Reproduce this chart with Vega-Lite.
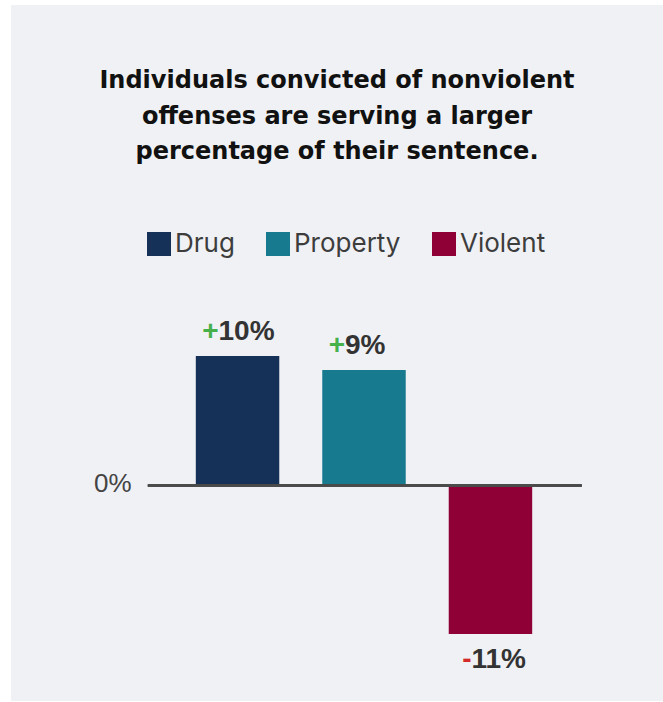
{
  "$schema": "https://vega.github.io/schema/vega-lite/v6.json",
  "width": 652,
  "height": 696,
  "autosize": {"type": "none"},
  "padding": {"left": 11, "top": 5, "right": 0, "bottom": 1},
  "background": "#ffffff",
  "config": {
    "view": {"stroke": null, "fill": "#f0f1f4"}
  },
  "title": {
    "text": ["Individuals convicted of nonviolent", "offenses are serving a larger", "percentage of their sentence."],
    "font": "DejaVu Sans",
    "fontSize": 24,
    "fontWeight": "bold",
    "color": "#111111",
    "lineHeight": 35.5,
    "anchor": "middle",
    "frame": "group",
    "baseline": "alphabetic",
    "offset": -178.4
  },
  "data": {
    "values": [
      {"type": "Drug", "value": 10.0, "sign": "+", "label": "10%"},
      {"type": "Property", "value": 8.92, "sign": "+", "label": "9%"},
      {"type": "Violent", "value": -11.47, "sign": "-", "label": "11%"}
    ]
  },
  "encoding": {
    "x": {
      "field": "type",
      "type": "nominal",
      "sort": ["Drug", "Property", "Violent"],
      "axis": null,
      "scale": {"range": [136, 570], "paddingInner": 0.34, "paddingOuter": 0.386, "align": 0.5}
    }
  },
  "layer": [
    {
      "mark": {"type": "bar"},
      "encoding": {
        "y": {
          "field": "value",
          "type": "quantitative",
          "scale": {"domain": [-16.64, 37.1], "nice": false, "zero": false},
          "axis": {
            "values": [0],
            "labelExpr": "datum.value + '%'",
            "domain": false,
            "ticks": false,
            "grid": false,
            "title": null,
            "offset": -136,
            "labelPadding": 16,
            "labelFont": "Liberation Sans",
            "labelFontSize": 26,
            "labelColor": "#444444",
            "labelOffset": -2
          }
        },
        "color": {
          "field": "type",
          "type": "nominal",
          "scale": {"domain": ["Drug", "Property", "Violent"], "range": ["#163158", "#177a8f", "#8f0037"]},
          "legend": {
            "title": null,
            "orient": "none",
            "direction": "horizontal",
            "legendX": 135,
            "legendY": 226,
            "padding": 0,
            "symbolType": "square",
            "symbolSize": 576,
            "symbolStrokeWidth": 0,
            "symbolOpacity": 1,
            "labelFont": "Inter",
            "labelFontSize": 26,
            "labelColor": "#3d3d3d",
            "labelOffset": 3,
            "columnPadding": 30
          }
        }
      }
    },
    {
      "mark": {"type": "rule", "color": "#4a4a4a", "strokeWidth": 2.5},
      "encoding": {
        "y": {"datum": 0, "type": "quantitative"},
        "x": {"datum": "Drug", "type": "nominal", "bandPosition": -0.575},
        "x2": {"datum": "Violent", "bandPosition": 1.593}
      }
    },
    {
      "transform": [{"filter": "datum.value >= 0"}],
      "layer": [
        {
          "mark": {"type": "text", "align": "right", "baseline": "alphabetic", "dx": -19, "dy": -15.5, "font": "Liberation Sans", "fontSize": 28, "fontWeight": "bold", "color": "#46b04a"},
          "encoding": {"y": {"field": "value", "type": "quantitative"}, "text": {"field": "sign"}}
        },
        {
          "mark": {"type": "text", "align": "left", "baseline": "alphabetic", "dx": -19, "dy": -15.5, "font": "Liberation Sans", "fontSize": 28, "fontWeight": "bold", "color": "#333333"},
          "encoding": {"y": {"field": "value", "type": "quantitative"}, "text": {"field": "label"}}
        }
      ]
    },
    {
      "transform": [{"filter": "datum.value < 0"}],
      "layer": [
        {
          "mark": {"type": "text", "align": "right", "baseline": "alphabetic", "dx": -19, "dy": 34, "font": "Liberation Sans", "fontSize": 28, "fontWeight": "bold", "color": "#d42a2a"},
          "encoding": {"y": {"field": "value", "type": "quantitative"}, "text": {"field": "sign"}}
        },
        {
          "mark": {"type": "text", "align": "left", "baseline": "alphabetic", "dx": -19, "dy": 34, "font": "Liberation Sans", "fontSize": 28, "fontWeight": "bold", "color": "#333333"},
          "encoding": {"y": {"field": "value", "type": "quantitative"}, "text": {"field": "label"}}
        }
      ]
    }
  ]
}
